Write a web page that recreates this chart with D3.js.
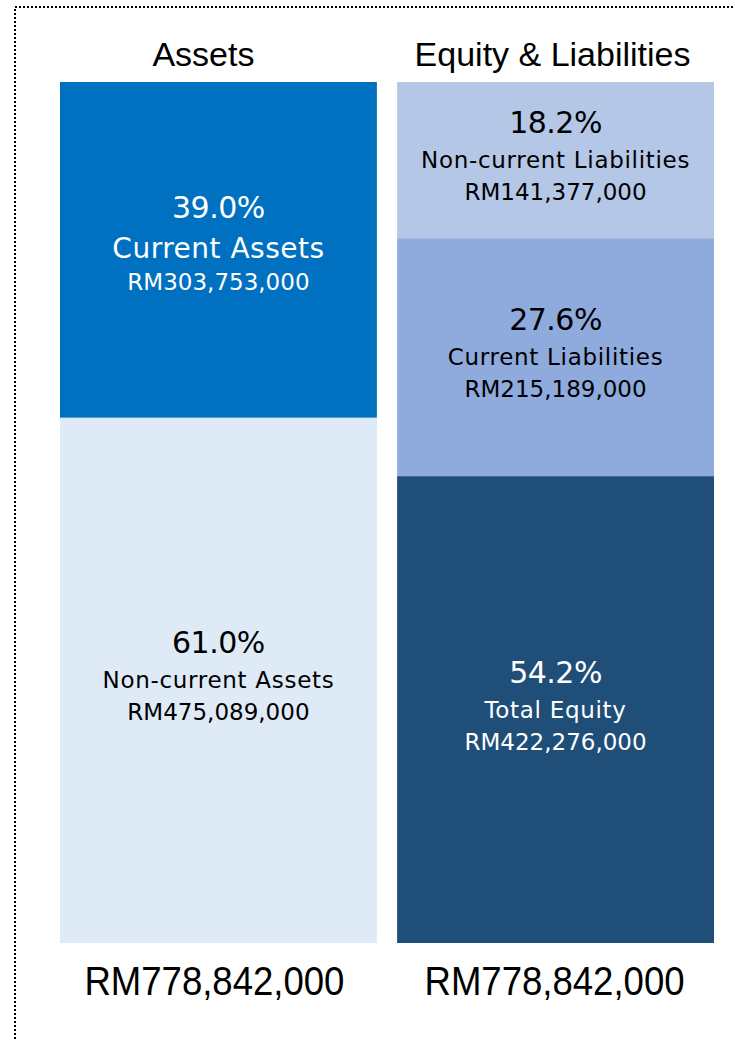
<!DOCTYPE html>
<html>
<head>
<meta charset="utf-8">
<script src="https://cdn.jsdelivr.net/npm/d3@7"></script>
<style>
  body { margin: 0; background: #fff; }
  svg { display: block; }
</style>
</head>
<body>
<svg width="735" height="1040"></svg>
<script>
// columns and their stacked pieces (top to bottom)
const columns = ["Assets", "Equity & Liabilities"];
const assetNames = ["Current Assets", "Non-current Assets"];
const assetValues = [303753000, 475089000];
const assetPct = ["39.0%", "61.0%"];
const liabNames = ["Non-current Liabilities", "Current Liabilities", "Total Equity"];
const liabValues = [141377000, 215189000, 422276000];
const liabPct = ["18.2%", "27.6%", "54.2%"];
const totals = ["RM778,842,000", "RM778,842,000"];

const assetColors = ["#0070c0", "#deeaf6"];
const liabColors = ["#b4c7e7", "#8faadc", "#1f4e79"];
const assetText = ["#fff", "#000"];
const liabText = ["#000", "#000", "#fff"];

const svg = d3.select("svg");
const fmt = d3.format(",");

// dotted frame
svg.append("rect")
    .attr("x", 15).attr("y", 7)
    .attr("width", 900).attr("height", 1200)
    .attr("fill", "none")
    .attr("stroke", "#000")
    .attr("stroke-width", 2)
    .attr("stroke-dasharray", "2,2");

const x = d3.scaleBand().domain(columns).range([60, 714]).paddingInner(0.06);

const total = d3.sum(assetValues);
const y = d3.scaleLinear().domain([0, total]).range([82, 943]);

function stack(names, values, pct, colors, textColors) {
    let acc = 0;
    return names.map((n, i) => {
        const d = {name: n, value: values[i], pct: pct[i], color: colors[i], tc: textColors[i], y0: acc};
        acc += values[i];
        d.y1 = acc;
        return d;
    });
}

const stacks = [
    {col: columns[0], parts: stack(assetNames, assetValues, assetPct, assetColors, assetText), tdx: -15, sdx: -4},
    {col: columns[1], parts: stack(liabNames, liabValues, liabPct, liabColors, liabText), tdx: -3, sdx: -1}
];

const labelFont = "'DejaVu Sans', sans-serif";

stacks.forEach((s, si) => {
    const g = svg.append("g");
    const cx = x(s.col) + x.bandwidth() / 2;

    g.selectAll("rect").data(s.parts).enter().append("rect")
        .attr("x", x(s.col))
        .attr("width", x.bandwidth())
        .attr("y", d => y(d.y0))
        .attr("height", d => y(d.y1) - y(d.y0))
        .attr("fill", d => d.color);

    const lab = g.selectAll("g.lab").data(s.parts).enter().append("g")
        .attr("class", "lab")
        .attr("transform", d => "translate(" + cx + "," + ((y(d.y0) + y(d.y1)) / 2) + ")")
        .attr("text-anchor", "middle")
        .attr("font-family", labelFont)
        .attr("fill", d => d.tc);

    const big = d => d.name == "Current Assets";

    lab.append("text")
        .attr("y", d => big(d) ? -32 : -27)
        .attr("font-size", 30)
        .attr("letter-spacing", -0.5)
        .text(d => d.pct);
    lab.append("text")
        .attr("y", d => big(d) ? 8 : 8)
        .attr("font-size", d => big(d) ? 28 : 23)
        .attr("letter-spacing", d => big(d) ? 0.5 : 0.7)
        .text(d => d.name);
    lab.append("text")
        .attr("y", d => big(d) ? 40 : 40)
        .attr("font-size", 23)
        .text(d => "RM" + fmt(d.value));

    // column title
    svg.append("text")
        .attr("x", cx + s.tdx).attr("y", 66)
        .attr("text-anchor", "middle")
        .attr("font-family", "'Liberation Sans', Arial, sans-serif")
        .attr("font-size", 34)
        .text(s.col);

    // total under column
    svg.append("text")
        .attr("x", cx + s.sdx).attr("y", 995)
        .attr("text-anchor", "middle")
        .attr("font-family", "'Liberation Sans', Arial, sans-serif")
        .attr("font-size", 41)
        .attr("textLength", 260)
        .attr("lengthAdjust", "spacingAndGlyphs")
        .text(totals[si]);
});
</script>
</body>
</html>
